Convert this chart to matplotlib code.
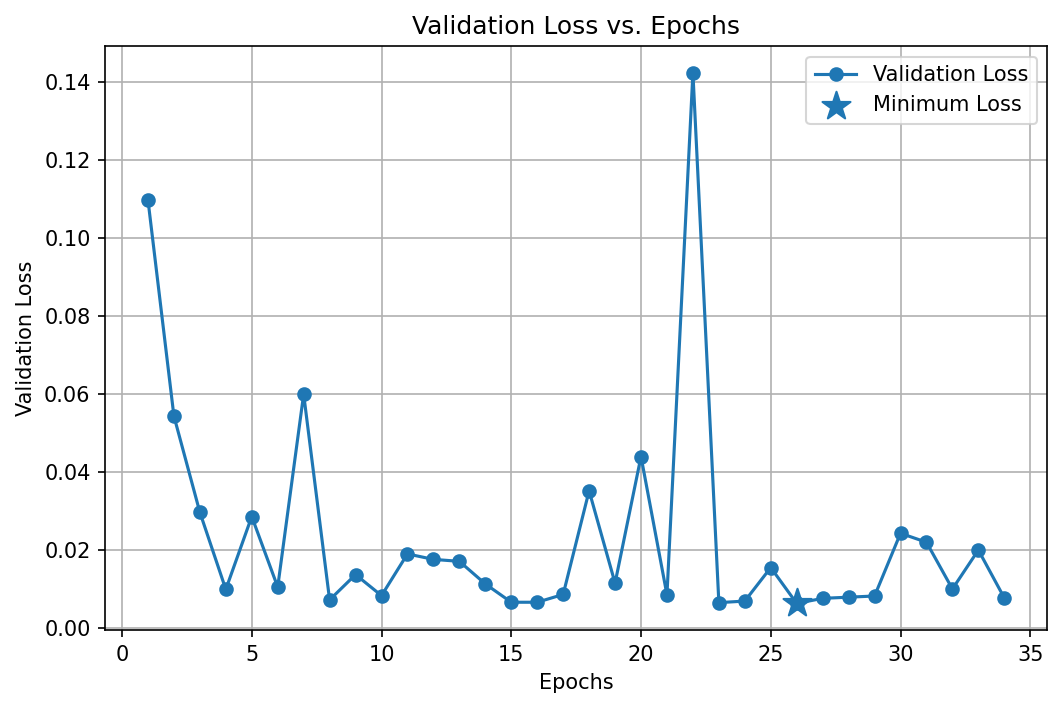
import numpy as np
import matplotlib
matplotlib.use('Agg')
import matplotlib.pyplot as plt

epochs = list(range(1, 35))
val_loss = [0.1098, 0.0543, 0.0296, 0.0098, 0.0285, 0.0104, 0.0599, 0.0071,
            0.0136, 0.0082, 0.0189, 0.0175, 0.0170, 0.0112, 0.0065, 0.0065,
            0.0085, 0.0351, 0.0114, 0.0439, 0.0084, 0.1424, 0.0064, 0.0068,
            0.0154, 0.0062, 0.0075, 0.0078, 0.0081, 0.0242, 0.0219, 0.0099,
            0.0199, 0.0076]

min_idx = int(np.argmin(val_loss))
min_epoch = epochs[min_idx]
min_loss = val_loss[min_idx]

fig = plt.figure(figsize=(7.08, 4.74), dpi=150)
plt.plot(epochs, val_loss, marker='o', label='Validation Loss')
plt.scatter(min_epoch, min_loss, marker='*', s=200, label='Minimum Loss', zorder=3)

plt.title('Validation Loss vs. Epochs')
plt.xlabel('Epochs')
plt.ylabel('Validation Loss')
plt.legend()
plt.grid(True)

plt.subplots_adjust(left=0.099, right=0.986, top=0.935, bottom=0.114)
plt.savefig('out.png', dpi=150)
